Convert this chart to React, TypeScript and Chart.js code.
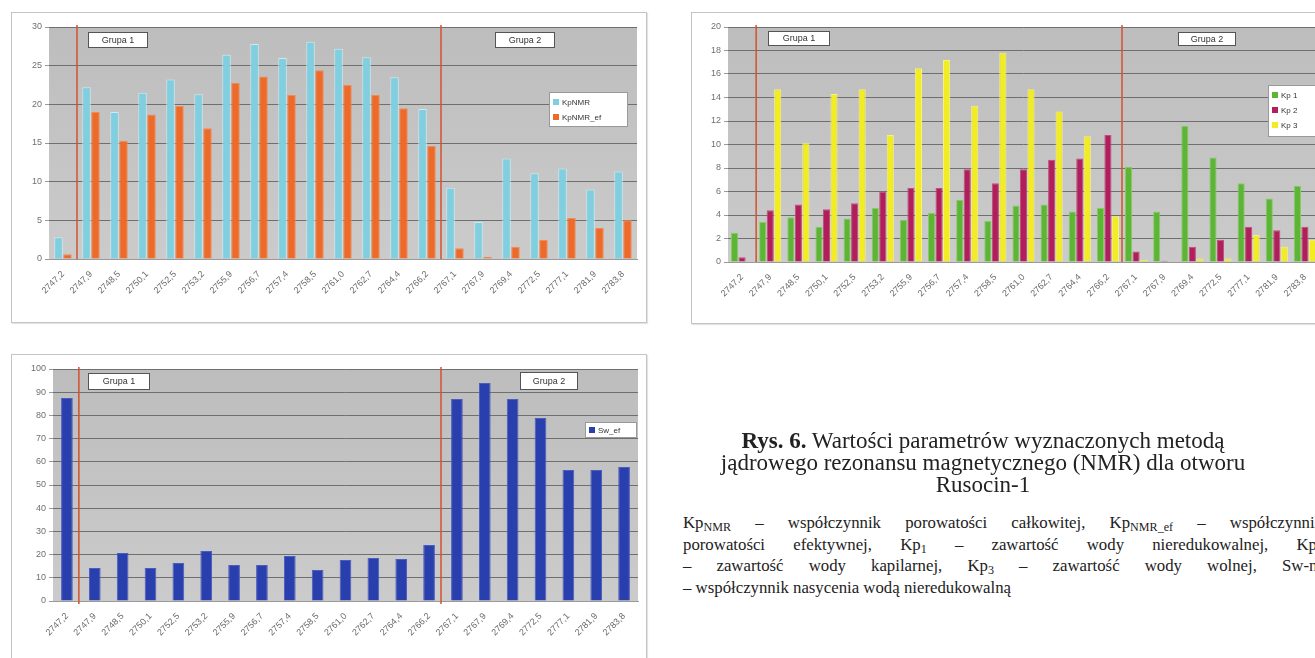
import React, { useEffect, useRef } from "react";
import { Chart, registerables } from "chart.js";
Chart.register(...registerables);

const depths = ["2747,2", "2747,9", "2748,5", "2750,1", "2752,5", "2753,2", "2755,9", "2756,7", "2757,4", "2758,5", "2761,0", "2762,7", "2764,4", "2766,2", "2767,1", "2767,9", "2769,4", "2772,5", "2777,1", "2781,9", "2783,8"];
const groupNames = ["Grupa 1", "Grupa 2"];
const groupStarts = [1, 14];

const kpNMR = [2.8, 22.2, 19.0, 21.5, 23.2, 21.3, 26.4, 27.8, 26.0, 28.1, 27.2, 26.1, 23.5, 19.4, 9.2, 4.8, 13.0, 11.1, 11.7, 9.0, 11.3];
const kpNMRef = [0.6, 19.0, 15.3, 18.7, 19.8, 16.9, 22.8, 23.6, 21.2, 24.4, 22.5, 21.2, 19.5, 14.6, 1.4, 0.3, 1.6, 2.5, 5.3, 4.0, 5.0];

const kp1 = [2.5, 3.4, 3.8, 3.0, 3.7, 4.6, 3.6, 4.2, 5.3, 3.5, 4.8, 4.9, 4.3, 4.6, 8.1, 4.3, 11.6, 8.9, 6.7, 5.4, 6.5];
const kp2 = [0.4, 4.4, 4.9, 4.5, 5.0, 6.0, 6.3, 6.3, 7.9, 6.7, 7.9, 8.7, 8.8, 10.8, 0.9, 0.1, 1.3, 1.9, 3.0, 2.7, 3.0];
const kp3 = [0, 14.7, 10.1, 14.3, 14.7, 10.8, 16.5, 17.2, 13.3, 17.8, 14.7, 12.8, 10.7, 3.9, 0.2, 0, 0.3, 0.3, 2.3, 1.3, 1.9];

const swEf = [87.5, 14.2, 20.7, 14.2, 16.4, 21.6, 15.5, 15.5, 19.4, 13.4, 17.7, 18.5, 18.1, 24.1, 87.1, 94.0, 87.1, 78.9, 56.5, 56.5, 57.8];

const chart1Ticks = { max: 30, step: 5 };
const chart2Ticks = { max: 20, step: 2 };
const chart3Ticks = { max: 100, step: 10 };

const FONT = '"Liberation Sans", Arial, sans-serif';
const SERIF = '"Liberation Serif", "Times New Roman", serif';

const decorPlugin = {
  id: "decor",
  beforeDraw(chart: any) {
    const { ctx, chartArea: a } = chart;
    ctx.save();
    const g = ctx.createLinearGradient(0, a.top, 0, a.bottom);
    g.addColorStop(0, "#bdbdbd");
    g.addColorStop(1, "#cbcbcb");
    ctx.fillStyle = g;
    ctx.fillRect(a.left, a.top, a.right - a.left, a.bottom - a.top);
    ctx.restore();
  },
  afterDatasetsDraw(chart: any, _a: any, opts: any) {
    const { ctx, chartArea: a } = chart;
    const xs = chart.scales.x;
    const half = (xs.getPixelForValue(1) - xs.getPixelForValue(0)) / 2;
    ctx.save();
    groupStarts.forEach((i) => {
      const px = xs.getPixelForValue(i) - half + (opts.divShift || 0);
      ctx.beginPath();
      ctx.strokeStyle = "#d4502c";
      ctx.lineWidth = 1.5;
      ctx.moveTo(px, a.top - 2);
      ctx.lineTo(px, a.bottom + (opts.divExtra || 0));
      ctx.stroke();
    });
    ctx.lineWidth = 1;
    ctx.font = "9px " + FONT;
    ctx.textBaseline = "middle";
    ctx.textAlign = "center";
    groupNames.forEach((name, k) => {
      const bx = opts.groupBoxes[k];
      const px = a.left + bx[0];
      const py = a.top + bx[1];
      ctx.fillStyle = "#ffffff";
      ctx.fillRect(px, py, bx[2], bx[3]);
      ctx.strokeStyle = "#555";
      ctx.strokeRect(px + 0.5, py + 0.5, bx[2] - 1, bx[3] - 1);
      ctx.fillStyle = "#333";
      ctx.fillText(name, px + bx[2] / 2, py + bx[3] / 2 + 0.5);
    });
    const L = opts.legend;
    const lx = a.left + L.x;
    const ly = a.top + L.y;
    ctx.fillStyle = "#ffffff";
    ctx.fillRect(lx, ly, L.w, L.h);
    ctx.strokeStyle = "#999";
    ctx.strokeRect(lx + 0.5, ly + 0.5, L.w - 1, L.h - 1);
    ctx.textAlign = "left";
    ctx.font = "8px " + FONT;
    chart.data.datasets.forEach((ds: any, i: number) => {
      const ry = ly + L.pad + i * L.row;
      ctx.fillStyle = ds.backgroundColor;
      ctx.fillRect(lx + 4, ry - 3, 6, 6);
      ctx.fillStyle = "#333";
      ctx.fillText(ds.label, lx + 13, ry + 0.5);
    });
    ctx.restore();
  },
};

function makeOptions(tk: any, padRight: number, yW: number, xH: number, decor: any) {
  return {
    animation: false,
    responsive: false,
    layout: { padding: { top: 14, right: padRight, left: 0, bottom: 0 } },
    plugins: { legend: { display: false }, tooltip: { enabled: false }, decor },
    scales: {
      x: {
        grid: { display: false },
        border: { color: "#9a9a9a" },
        ticks: {
          minRotation: 45,
          maxRotation: 45,
          color: "#6a6a6a",
          font: { size: 9, family: FONT },
          padding: 2,
        },
        afterFit(s: any) {
          s.height = xH;
        },
      },
      y: {
        min: 0,
        max: tk.max,
        grid: { color: "#6f6f6f", lineWidth: 1, tickLength: 4, tickColor: "#9a9a9a" },
        border: { display: false },
        ticks: {
          stepSize: tk.step,
          color: "#707070",
          font: { size: 9, family: FONT },
          padding: 3,
        },
        afterFit(s: any) {
          s.width = yW;
        },
      },
    },
  };
}

function useChart(ref: any, config: () => any) {
  useEffect(() => {
    const c = new Chart(ref.current, { ...config(), plugins: [decorPlugin] });
    return () => c.destroy();
  }, []);
}

const subStyle: any = { fontSize: "0.72em", verticalAlign: "-0.25em", lineHeight: 0 };

export default function App() {
  const r1 = useRef<HTMLCanvasElement>(null);
  const r2 = useRef<HTMLCanvasElement>(null);
  const r3 = useRef<HTMLCanvasElement>(null);

  useChart(r1, () => ({
    type: "bar",
    data: {
      labels: depths,
      datasets: [
        { label: "KpNMR", data: kpNMR, backgroundColor: "#80cfe0", borderColor: "#c6edf3", borderWidth: 1, categoryPercentage: 0.64, barPercentage: 0.95 },
        { label: "KpNMR_ef", data: kpNMRef, backgroundColor: "#ee6a28", borderColor: "#f28a55", borderWidth: 1, categoryPercentage: 0.64, barPercentage: 0.95 },
      ],
    },
    options: makeOptions(chart1Ticks, 9, 37, 63, {
      groupBoxes: [[39, 5, 60, 16], [446, 5, 60, 16]],
      legend: { x: 500, y: 65, w: 79, h: 35, pad: 10, row: 15 },
    }),
  }));

  useChart(r2, () => ({
    type: "bar",
    data: {
      labels: depths,
      datasets: [
        { label: "Kp 1", data: kp1, backgroundColor: "#5cb534", borderColor: "#86cc62", borderWidth: 1, categoryPercentage: 0.8, barPercentage: 0.95 },
        { label: "Kp 2", data: kp2, backgroundColor: "#b01f5c", borderColor: "#c24c7c", borderWidth: 1, categoryPercentage: 0.8, barPercentage: 0.95 },
        { label: "Kp 3", data: kp3, backgroundColor: "#f2ec22", borderColor: "#f8f27a", borderWidth: 1, categoryPercentage: 0.8, barPercentage: 0.95 },
      ],
    },
    options: makeOptions(chart2Ticks, 13, 36, 61, {
      groupBoxes: [[40, 4, 62, 15], [450, 5, 58, 14]],
      legend: { x: 540, y: 58, w: 52, h: 52, pad: 10, row: 15 },
    }),
  }));

  useChart(r3, () => ({
    type: "bar",
    data: {
      labels: depths,
      datasets: [
        { label: "Sw_ef", data: swEf, backgroundColor: "#2a3fae", borderColor: "#4a5cc0", borderWidth: 1, categoryPercentage: 0.42, barPercentage: 1 },
      ],
    },
    options: makeOptions(chart3Ticks, 8, 41, 66, {
      groupBoxes: [[35, 4, 62, 17], [467, 3, 58, 18]],
      legend: { x: 532, y: 53, w: 52, h: 16, pad: 8, row: 15 },
      divShift: -2,
      divExtra: 3,
    }),
  }));

  const panel: any = {
    position: "absolute",
    border: "1px solid #c4c4c4",
    background: "#fff",
    boxShadow: "1px 1px 1px #e4e4e4",
  };

  const jline: any = { textAlign: "justify", textAlignLast: "justify", whiteSpace: "normal", height: "21.7px", overflow: "visible" };

  return (
    <div style={{ position: "fixed", left: 0, top: 0, width: 1315, height: 658, overflow: "hidden", background: "#fff" }}>
      <div style={{ ...panel, left: 11, top: 12 }}>
        <canvas ref={r1} width={634} height={309} style={{ display: "block" }} />
      </div>
      <div style={{ ...panel, left: 691, top: 12 }}>
        <canvas ref={r2} width={640} height={310} style={{ display: "block" }} />
      </div>
      <div style={{ ...panel, left: 11, top: 354 }}>
        <canvas ref={r3} width={634} height={312} style={{ display: "block" }} />
      </div>
      <div
        style={{
          position: "absolute",
          left: 633,
          top: 430,
          width: 700,
          textAlign: "center",
          fontFamily: SERIF,
          fontSize: 23,
          lineHeight: "22px",
          color: "#222",
          whiteSpace: "nowrap",
        }}
      >
        <b>Rys. 6.</b> Wartości parametrów wyznaczonych metodą
        <br />
        jądrowego rezonansu magnetycznego (NMR) dla otworu
        <br />
        Rusocin-1
      </div>
      <div
        style={{
          position: "absolute",
          left: 683,
          top: 512,
          width: 640,
          fontFamily: SERIF,
          fontSize: 16.8,
          lineHeight: "21.7px",
          color: "#222",
        }}
      >
        <div style={jline}>
          Kp<sub style={subStyle}>NMR</sub> – współczynnik porowatości całkowitej, Kp<sub style={subStyle}>NMR_ef</sub> – współczynnik
        </div>
        <div style={jline}>
          porowatości efektywnej, Kp<sub style={subStyle}>1</sub> – zawartość wody nieredukowalnej, Kp<sub style={subStyle}>2</sub>
        </div>
        <div style={jline}>
          – zawartość wody kapilarnej, Kp<sub style={subStyle}>3</sub> – zawartość wody wolnej, Sw-nr
        </div>
        <div style={{ height: "21.7px" }}>– współczynnik nasycenia wodą nieredukowalną</div>
      </div>
    </div>
  );
}
